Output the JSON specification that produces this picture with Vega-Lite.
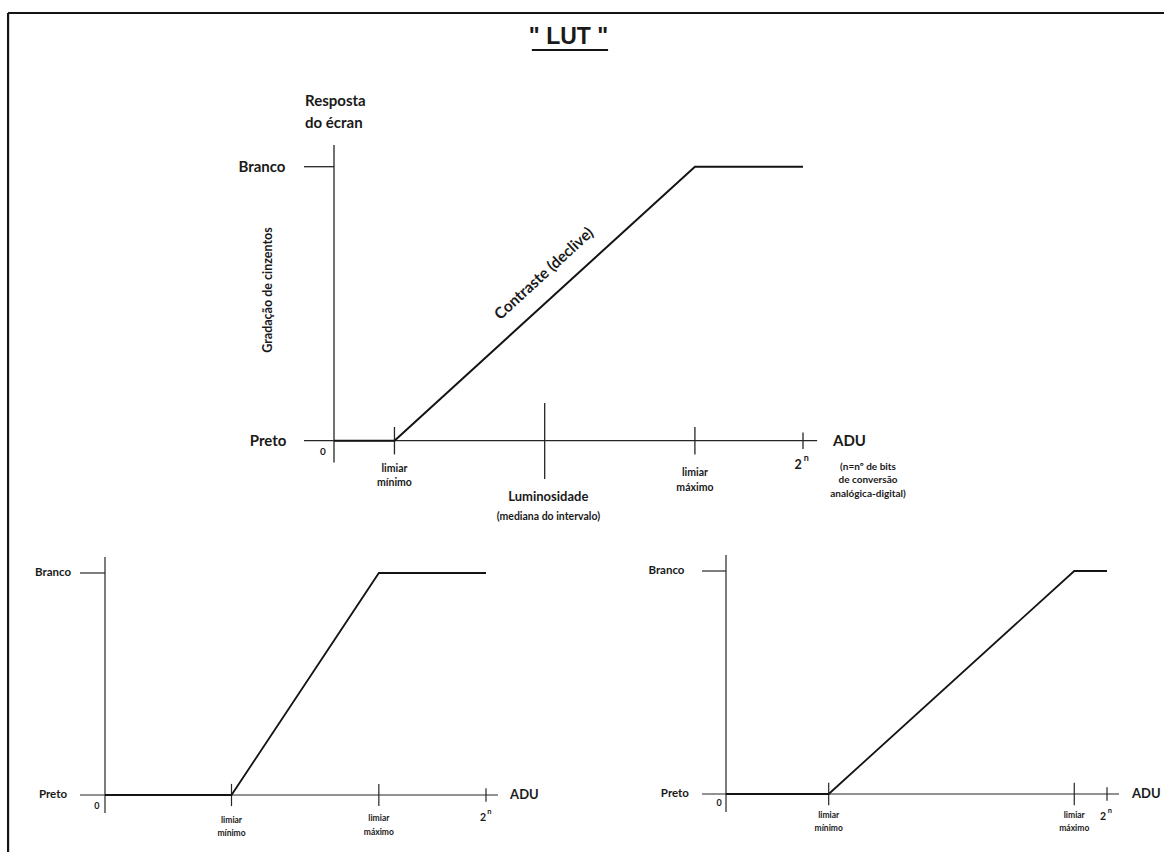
{
  "$schema": "https://vega.github.io/schema/vega-lite/v6.json",
  "width": 1164,
  "height": 852,
  "padding": 0,
  "autosize": {"type": "none"},
  "background": "white",
  "config": {
    "view": {"stroke": null},
    "text": {"font": "Lato", "fontWeight": "bold", "color": "#1a1a1a"}
  },
  "datasets": {
    "segmentos": [
      {"painel": "topo", "tipo": "moldura", "adu": -177.9, "adu2": -177.9, "resposta": 1.561, "resposta2": -1.52},
      {"painel": "topo", "tipo": "moldura", "adu": -177.9, "adu2": 455, "resposta": 1.561, "resposta2": 1.561},
      {"painel": "topo", "tipo": "sublinhado", "adu": 108, "adu2": 149.6, "resposta": 1.426, "resposta2": 1.426},
      {"painel": "topo", "tipo": "eixo", "adu": 0, "adu2": 0, "resposta": 1.079, "resposta2": -0.08},
      {"painel": "topo", "tipo": "eixo", "adu": -16.4, "adu2": 263.7, "resposta": 0, "resposta2": 0},
      {"painel": "topo", "tipo": "eixo", "adu": -16.4, "adu2": 0, "resposta": 1, "resposta2": 1},
      {"painel": "topo", "tipo": "eixo", "adu": 33, "adu2": 33, "resposta": 0.05, "resposta2": -0.05},
      {"painel": "topo", "tipo": "eixo", "adu": 115, "adu2": 115, "resposta": 0.138, "resposta2": -0.14},
      {"painel": "topo", "tipo": "eixo", "adu": 197, "adu2": 197, "resposta": 0.05, "resposta2": -0.05},
      {"painel": "topo", "tipo": "eixo", "adu": 256, "adu2": 256, "resposta": 0.03, "resposta2": -0.03},
      {"painel": "esq", "tipo": "eixo", "adu": 0, "adu2": 0, "resposta": 1.072, "resposta2": -0.081},
      {"painel": "esq", "tipo": "eixo", "adu": -16.8, "adu2": 264.1, "resposta": 0, "resposta2": 0},
      {"painel": "esq", "tipo": "eixo", "adu": -16.8, "adu2": 0, "resposta": 1, "resposta2": 1},
      {"painel": "esq", "tipo": "eixo", "adu": 85, "adu2": 85, "resposta": 0.05, "resposta2": -0.05},
      {"painel": "esq", "tipo": "eixo", "adu": 184, "adu2": 184, "resposta": 0.05, "resposta2": -0.05},
      {"painel": "esq", "tipo": "eixo", "adu": 256, "adu2": 256, "resposta": 0.03, "resposta2": -0.03},
      {"painel": "dir", "tipo": "eixo", "adu": 0, "adu2": 0, "resposta": 1.072, "resposta2": -0.081},
      {"painel": "dir", "tipo": "eixo", "adu": -16.1, "adu2": 264.1, "resposta": 0, "resposta2": 0},
      {"painel": "dir", "tipo": "eixo", "adu": -16.1, "adu2": 0, "resposta": 1, "resposta2": 1},
      {"painel": "dir", "tipo": "eixo", "adu": 69, "adu2": 69, "resposta": 0.05, "resposta2": -0.05},
      {"painel": "dir", "tipo": "eixo", "adu": 234, "adu2": 234, "resposta": 0.05, "resposta2": -0.05},
      {"painel": "dir", "tipo": "eixo", "adu": 256, "adu2": 256, "resposta": 0.03, "resposta2": -0.03}
    ],
    "curvas": [
      {"painel": "topo", "adu": 0, "resposta": 0},
      {"painel": "topo", "adu": 33, "resposta": 0},
      {"painel": "topo", "adu": 197, "resposta": 1},
      {"painel": "topo", "adu": 256, "resposta": 1},
      {"painel": "esq", "adu": 0, "resposta": 0},
      {"painel": "esq", "adu": 85, "resposta": 0},
      {"painel": "esq", "adu": 184, "resposta": 1},
      {"painel": "esq", "adu": 256, "resposta": 1},
      {"painel": "dir", "adu": 0, "resposta": 0},
      {"painel": "dir", "adu": 69, "resposta": 0},
      {"painel": "dir", "adu": 234, "resposta": 1},
      {"painel": "dir", "adu": 256, "resposta": 1}
    ],
    "rotulos": [
      {"painel": "topo", "papel": "titulo", "texto": "\" LUT \"", "adu": 128, "resposta": 1.473},
      {"painel": "topo", "papel": "nivel", "texto": "Branco", "adu": -26.5, "resposta": 1},
      {"painel": "topo", "papel": "nivel", "texto": "Preto", "adu": -26, "resposta": 0},
      {"painel": "topo", "papel": "esq", "texto": "ADU", "adu": 272.4, "resposta": 0},
      {"painel": "topo", "papel": "esq", "texto": "Resposta", "adu": -15.8, "resposta": 1.24},
      {"painel": "topo", "papel": "esq", "texto": "do écran", "adu": -15.8, "resposta": 1.1595},
      {"painel": "topo", "papel": "zero", "texto": "0", "adu": -6, "resposta": -0.041},
      {"painel": "topo", "papel": "peq", "texto": "limiar", "adu": 33, "resposta": -0.1033},
      {"painel": "topo", "papel": "peq", "texto": "mínimo", "adu": 33, "resposta": -0.1544},
      {"painel": "topo", "papel": "peq", "texto": "limiar", "adu": 197, "resposta": -0.1168},
      {"painel": "topo", "papel": "peq", "texto": "máximo", "adu": 197, "resposta": -0.1726},
      {"painel": "topo", "papel": "med", "texto": "Luminosidade", "adu": 117, "resposta": -0.2055},
      {"painel": "topo", "papel": "peq", "texto": "(mediana do intervalo)", "adu": 117, "resposta": -0.2785},
      {"painel": "topo", "papel": "pot", "texto": "2", "adu": 253.3, "resposta": -0.0887},
      {"painel": "topo", "papel": "exp", "texto": "n", "adu": 257.8, "resposta": -0.063},
      {"painel": "topo", "papel": "nota", "texto": "(n=nº de bits", "adu": 291.5, "resposta": -0.096},
      {"painel": "topo", "papel": "nota", "texto": "de conversão", "adu": 291.5, "resposta": -0.1434},
      {"painel": "topo", "papel": "nota", "texto": "analógica-digital)", "adu": 291.5, "resposta": -0.1945},
      {"painel": "topo", "papel": "rot", "texto": "Gradação de cinzentos", "adu": -36, "resposta": 0.55},
      {"painel": "topo", "papel": "diag", "texto": "Contraste (declive)", "adu": 114.6, "resposta": 0.61},
      {"painel": "esq", "papel": "nivel", "texto": "Branco", "adu": -22.8, "resposta": 1},
      {"painel": "esq", "papel": "nivel", "texto": "Preto", "adu": -25.5, "resposta": 0},
      {"painel": "esq", "papel": "esq", "texto": "ADU", "adu": 272.2, "resposta": 0},
      {"painel": "esq", "papel": "zero", "texto": "0", "adu": -5.4, "resposta": -0.05},
      {"painel": "esq", "papel": "peq", "texto": "limiar", "adu": 85, "resposta": -0.113},
      {"painel": "esq", "papel": "peq", "texto": "mínimo", "adu": 85, "resposta": -0.171},
      {"painel": "esq", "papel": "peq", "texto": "limiar", "adu": 184, "resposta": -0.104},
      {"painel": "esq", "papel": "peq", "texto": "máximo", "adu": 184, "resposta": -0.167},
      {"painel": "esq", "papel": "pot", "texto": "2", "adu": 254, "resposta": -0.104},
      {"painel": "esq", "papel": "exp", "texto": "n", "adu": 258.2, "resposta": -0.077},
      {"painel": "dir", "papel": "nivel", "texto": "Branco", "adu": -27.9, "resposta": 1},
      {"painel": "dir", "papel": "nivel", "texto": "Preto", "adu": -24.9, "resposta": 0},
      {"painel": "dir", "papel": "esq", "texto": "ADU", "adu": 272.8, "resposta": 0},
      {"painel": "dir", "papel": "zero", "texto": "0", "adu": -4.7, "resposta": -0.04},
      {"painel": "dir", "papel": "peq", "texto": "limiar", "adu": 69, "resposta": -0.094},
      {"painel": "dir", "papel": "peq", "texto": "mínimo", "adu": 69, "resposta": -0.152},
      {"painel": "dir", "papel": "peq", "texto": "limiar", "adu": 234, "resposta": -0.094},
      {"painel": "dir", "papel": "peq", "texto": "máximo", "adu": 234, "resposta": -0.152},
      {"painel": "dir", "papel": "pot", "texto": "2", "adu": 253.4, "resposta": -0.103},
      {"painel": "dir", "papel": "exp", "texto": "n", "adu": 258, "resposta": -0.076}
    ]
  },
  "resolve": {"scale": {"x": "independent", "y": "independent"}},
  "layer": [
    {
      "encoding": {
        "x": {"field": "adu", "type": "quantitative", "scale": {"domain": [0, 256], "range": [334, 803], "nice": false, "zero": false}, "axis": null},
        "y": {"field": "resposta", "type": "quantitative", "scale": {"domain": [0, 1], "range": [440.7, 166.7], "nice": false, "zero": false}, "axis": null}
      },
      "layer": [
        {"data": {"name": "segmentos"}, "transform": [{"filter": "datum.painel === 'topo' && datum.tipo === 'moldura'"}],
         "mark": {"type": "rule", "color": "#141414", "strokeWidth": 2.2},
         "encoding": {"x2": {"field": "adu2"}, "y2": {"field": "resposta2"}}},
        {"data": {"name": "segmentos"}, "transform": [{"filter": "datum.painel === 'topo' && datum.tipo === 'eixo'"}],
         "mark": {"type": "rule", "color": "#262626", "strokeWidth": 1.3},
         "encoding": {"x2": {"field": "adu2"}, "y2": {"field": "resposta2"}}},
        {"data": {"name": "segmentos"}, "transform": [{"filter": "datum.painel === 'topo' && datum.tipo === 'sublinhado'"}],
         "mark": {"type": "rule", "color": "#141414", "strokeWidth": 2},
         "encoding": {"x2": {"field": "adu2"}, "y2": {"field": "resposta2"}}},
        {"data": {"name": "curvas"}, "transform": [{"filter": "datum.painel === 'topo'"}],
         "mark": {"type": "line", "color": "#141414", "strokeWidth": 2}},
        {"data": {"name": "rotulos"}, "transform": [{"filter": "datum.painel === 'topo' && datum.papel === 'titulo'"}],
         "mark": {"type": "text", "font": "Liberation Sans", "fontSize": 23, "fontWeight": "bold", "align": "center", "baseline": "middle"},
         "encoding": {"text": {"field": "texto"}}},
        {"data": {"name": "rotulos"}, "transform": [{"filter": "datum.painel === 'topo' && datum.papel === 'nivel'"}],
         "mark": {"type": "text", "fontSize": 15, "align": "right", "baseline": "middle"},
         "encoding": {"text": {"field": "texto"}}},
        {"data": {"name": "rotulos"}, "transform": [{"filter": "datum.painel === 'topo' && datum.papel === 'esq'"}],
         "mark": {"type": "text", "fontSize": 15, "align": "left", "baseline": "middle"},
         "encoding": {"text": {"field": "texto"}}},
        {"data": {"name": "rotulos"}, "transform": [{"filter": "datum.painel === 'topo' && datum.papel === 'zero'"}],
         "mark": {"type": "text", "fontSize": 10, "align": "center", "baseline": "middle"},
         "encoding": {"text": {"field": "texto"}}},
        {"data": {"name": "rotulos"}, "transform": [{"filter": "datum.painel === 'topo' && datum.papel === 'peq'"}],
         "mark": {"type": "text", "fontSize": 10.5, "align": "center", "baseline": "middle"},
         "encoding": {"text": {"field": "texto"}}},
        {"data": {"name": "rotulos"}, "transform": [{"filter": "datum.painel === 'topo' && datum.papel === 'med'"}],
         "mark": {"type": "text", "fontSize": 13, "align": "center", "baseline": "middle"},
         "encoding": {"text": {"field": "texto"}}},
        {"data": {"name": "rotulos"}, "transform": [{"filter": "datum.painel === 'topo' && datum.papel === 'pot'"}],
         "mark": {"type": "text", "fontSize": 12.5, "align": "center", "baseline": "middle"},
         "encoding": {"text": {"field": "texto"}}},
        {"data": {"name": "rotulos"}, "transform": [{"filter": "datum.painel === 'topo' && datum.papel === 'exp'"}],
         "mark": {"type": "text", "fontSize": 9, "align": "center", "baseline": "middle"},
         "encoding": {"text": {"field": "texto"}}},
        {"data": {"name": "rotulos"}, "transform": [{"filter": "datum.painel === 'topo' && datum.papel === 'nota'"}],
         "mark": {"type": "text", "fontSize": 10, "align": "center", "baseline": "middle"},
         "encoding": {"text": {"field": "texto"}}},
        {"data": {"name": "rotulos"}, "transform": [{"filter": "datum.painel === 'topo' && datum.papel === 'rot'"}],
         "mark": {"type": "text", "fontSize": 12.5, "align": "center", "baseline": "middle", "angle": 270},
         "encoding": {"text": {"field": "texto"}}},
        {"data": {"name": "rotulos"}, "transform": [{"filter": "datum.painel === 'topo' && datum.papel === 'diag'"}],
         "mark": {"type": "text", "fontSize": 15.5, "align": "center", "baseline": "middle", "angle": 317.5},
         "encoding": {"text": {"field": "texto"}}}
      ]
    },
    {
      "encoding": {
        "x": {"field": "adu", "type": "quantitative", "scale": {"domain": [0, 256], "range": [105, 486], "nice": false, "zero": false}, "axis": null},
        "y": {"field": "resposta", "type": "quantitative", "scale": {"domain": [0, 1], "range": [795, 573], "nice": false, "zero": false}, "axis": null}
      },
      "layer": [
        {"data": {"name": "segmentos"}, "transform": [{"filter": "datum.painel === 'esq'"}],
         "mark": {"type": "rule", "color": "#262626", "strokeWidth": 1.2},
         "encoding": {"x2": {"field": "adu2"}, "y2": {"field": "resposta2"}}},
        {"data": {"name": "curvas"}, "transform": [{"filter": "datum.painel === 'esq'"}],
         "mark": {"type": "line", "color": "#141414", "strokeWidth": 1.8}},
        {"data": {"name": "rotulos"}, "transform": [{"filter": "datum.painel === 'esq' && datum.papel === 'nivel'"}],
         "mark": {"type": "text", "fontSize": 11.5, "align": "right", "baseline": "middle"},
         "encoding": {"text": {"field": "texto"}}},
        {"data": {"name": "rotulos"}, "transform": [{"filter": "datum.painel === 'esq' && datum.papel === 'esq'"}],
         "mark": {"type": "text", "fontSize": 13, "align": "left", "baseline": "middle"},
         "encoding": {"text": {"field": "texto"}}},
        {"data": {"name": "rotulos"}, "transform": [{"filter": "datum.painel === 'esq' && datum.papel === 'zero'"}],
         "mark": {"type": "text", "fontSize": 9, "align": "center", "baseline": "middle"},
         "encoding": {"text": {"field": "texto"}}},
        {"data": {"name": "rotulos"}, "transform": [{"filter": "datum.painel === 'esq' && datum.papel === 'peq'"}],
         "mark": {"type": "text", "fontSize": 8.5, "align": "center", "baseline": "middle"},
         "encoding": {"text": {"field": "texto"}}},
        {"data": {"name": "rotulos"}, "transform": [{"filter": "datum.painel === 'esq' && datum.papel === 'pot'"}],
         "mark": {"type": "text", "fontSize": 10.5, "align": "center", "baseline": "middle"},
         "encoding": {"text": {"field": "texto"}}},
        {"data": {"name": "rotulos"}, "transform": [{"filter": "datum.painel === 'esq' && datum.papel === 'exp'"}],
         "mark": {"type": "text", "fontSize": 7.5, "align": "center", "baseline": "middle"},
         "encoding": {"text": {"field": "texto"}}}
      ]
    },
    {
      "encoding": {
        "x": {"field": "adu", "type": "quantitative", "scale": {"domain": [0, 256], "range": [726, 1107], "nice": false, "zero": false}, "axis": null},
        "y": {"field": "resposta", "type": "quantitative", "scale": {"domain": [0, 1], "range": [794, 571], "nice": false, "zero": false}, "axis": null}
      },
      "layer": [
        {"data": {"name": "segmentos"}, "transform": [{"filter": "datum.painel === 'dir'"}],
         "mark": {"type": "rule", "color": "#262626", "strokeWidth": 1.2},
         "encoding": {"x2": {"field": "adu2"}, "y2": {"field": "resposta2"}}},
        {"data": {"name": "curvas"}, "transform": [{"filter": "datum.painel === 'dir'"}],
         "mark": {"type": "line", "color": "#141414", "strokeWidth": 1.8}},
        {"data": {"name": "rotulos"}, "transform": [{"filter": "datum.painel === 'dir' && datum.papel === 'nivel'"}],
         "mark": {"type": "text", "fontSize": 11.5, "align": "right", "baseline": "middle"},
         "encoding": {"text": {"field": "texto"}}},
        {"data": {"name": "rotulos"}, "transform": [{"filter": "datum.painel === 'dir' && datum.papel === 'esq'"}],
         "mark": {"type": "text", "fontSize": 13, "align": "left", "baseline": "middle"},
         "encoding": {"text": {"field": "texto"}}},
        {"data": {"name": "rotulos"}, "transform": [{"filter": "datum.painel === 'dir' && datum.papel === 'zero'"}],
         "mark": {"type": "text", "fontSize": 9, "align": "center", "baseline": "middle"},
         "encoding": {"text": {"field": "texto"}}},
        {"data": {"name": "rotulos"}, "transform": [{"filter": "datum.painel === 'dir' && datum.papel === 'peq'"}],
         "mark": {"type": "text", "fontSize": 8.5, "align": "center", "baseline": "middle"},
         "encoding": {"text": {"field": "texto"}}},
        {"data": {"name": "rotulos"}, "transform": [{"filter": "datum.painel === 'dir' && datum.papel === 'pot'"}],
         "mark": {"type": "text", "fontSize": 10.5, "align": "center", "baseline": "middle"},
         "encoding": {"text": {"field": "texto"}}},
        {"data": {"name": "rotulos"}, "transform": [{"filter": "datum.painel === 'dir' && datum.papel === 'exp'"}],
         "mark": {"type": "text", "fontSize": 7.5, "align": "center", "baseline": "middle"},
         "encoding": {"text": {"field": "texto"}}}
      ]
    }
  ]
}
